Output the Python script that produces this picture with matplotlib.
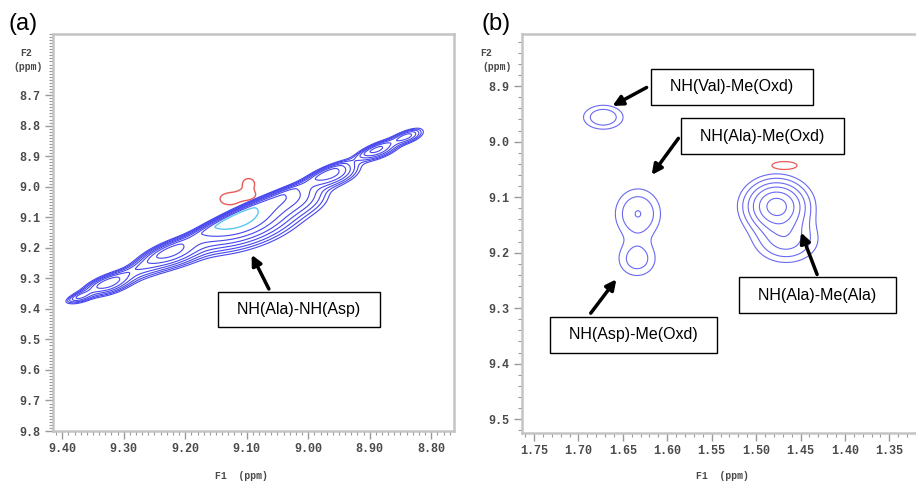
import numpy as np
import matplotlib
matplotlib.use('Agg')
import matplotlib.pyplot as plt
from matplotlib.ticker import MultipleLocator, FormatStrFormatter

# ---- panel (a): diagonal NH-NH peaks (u = along diagonal, d = y - x offset)
a_u = [9.366, 9.322, 9.270, 9.220, 9.112, 9.030, 8.962, 8.884, 8.838]
a_d = [-0.012, -0.012, -0.010, -0.016, -0.018, -0.012, -0.012, -0.012, -0.006]
a_amp = [0.28, 0.50, 0.20, 0.60, 1.00, 0.35, 0.50, 0.45, 0.32]
a_su = [0.012, 0.020, 0.025, 0.025, 0.045, 0.025, 0.022, 0.018, 0.014]
a_sd_up = [0.010, 0.016, 0.014, 0.018, 0.014, 0.012, 0.014, 0.012, 0.012]
a_sd_lo = [0.014, 0.024, 0.030, 0.035, 0.060, 0.050, 0.030, 0.020, 0.016]
a_levels = [0.07, 0.1, 0.14, 0.2, 0.28, 0.4, 0.56]
a_top_level = [0.8]
# negative (red) cross peak
a_neg_x = [9.128, 9.100, 9.097]
a_neg_y = [9.040, 9.026, 8.990]
a_neg_sx = [0.013, 0.012, 0.008]
a_neg_sy = [0.016, 0.014, 0.014]

# ---- panel (b): NH-Me cross peaks
b_x = [1.672, 1.633, 1.634, 1.477, 1.466]
b_y = [8.956, 9.130, 9.212, 9.116, 9.178]
b_amp = [0.28, 0.305, 0.24, 1.00, 0.35]
b_sx = [0.0155, 0.0170, 0.0150, 0.0205, 0.022]
b_sy = [0.0150, 0.0300, 0.0220, 0.0270, 0.025]
b_levels = [0.1, 0.18, 0.3, 0.45, 0.65, 0.88]
b_neg_x = [1.468]
b_neg_y = [9.043]

a_xticks = [9.40, 9.30, 9.20, 9.10, 9.00, 8.90, 8.80]
a_yticks = [8.7, 8.8, 8.9, 9.0, 9.1, 9.2, 9.3, 9.4, 9.5, 9.6, 9.7, 9.8]
b_xticks = [1.75, 1.70, 1.65, 1.60, 1.55, 1.50, 1.45, 1.40, 1.35]
b_yticks = [8.9, 9.0, 9.1, 9.2, 9.3, 9.4, 9.5]

plt.rcParams['font.family'] = ['Liberation Sans', 'DejaVu Sans']

fig = plt.figure(figsize=(9.16, 4.82), dpi=100)
axa = fig.add_axes([53 / 916, 51 / 482, 401 / 916, 397 / 482])
axb = fig.add_axes([522 / 916, 49 / 482, 394 / 916, 399 / 482])

blue = '#4646ee'
tickfont = dict(family='Liberation Mono', weight='bold', size=8.5)


def style_axes(ax):
    for s in ax.spines.values():
        s.set_color('#c4c4c4')
        s.set_linewidth(1.8)
    ax.tick_params(which='both', direction='out', color='#9a9a9a', labelcolor='#4a4a4a')
    ax.tick_params(which='major', length=6, width=1.0, pad=3)
    ax.tick_params(which='minor', length=3, width=0.8)
    ax.tick_params(top=False, right=False)
    for lab in ax.get_xticklabels() + ax.get_yticklabels():
        lab.set_fontfamily(tickfont['family'])
        lab.set_fontweight(tickfont['weight'])
        lab.set_fontsize(tickfont['size'])


# ---- panel (a)
gx = np.linspace(9.42, 8.76, 700)
gy = np.linspace(8.50, 9.80, 700)
X, Y = np.meshgrid(gx, gy)
U = (X + Y) / 2
D = Y - X
Z = np.zeros_like(X)
for u0, d0, A, su, sdu, sdl in zip(a_u, a_d, a_amp, a_su, a_sd_up, a_sd_lo):
    sd = np.where(D < d0, sdu, sdl)
    Z += A * np.exp(-(U - u0) ** 2 / (2 * su ** 2) - (D - d0) ** 2 / (2 * sd ** 2))
Zn = np.zeros_like(X)
for x0, y0, sx, sy in zip(a_neg_x, a_neg_y, a_neg_sx, a_neg_sy):
    Zn += np.exp(-(X - x0) ** 2 / (2 * sx ** 2) - (Y - y0) ** 2 / (2 * sy ** 2))

axa.contour(X, Y, Z, levels=a_levels, colors=blue, linewidths=0.8)
axa.contour(X, Y, Z, levels=a_top_level, colors='#5cc8f0', linewidths=1.0)
axa.contour(X, Y, Zn, levels=[0.5], colors='#e85a5a', linewidths=1.0)

axa.set_xlim(9.415, 8.763)
axa.set_ylim(9.80, 8.50)
axa.set_xticks(a_xticks)
axa.set_yticks(a_yticks)
axa.xaxis.set_major_formatter(FormatStrFormatter('%.2f'))
axa.yaxis.set_major_formatter(FormatStrFormatter('%.1f'))
axa.xaxis.set_minor_locator(MultipleLocator(0.01))
axa.yaxis.set_minor_locator(MultipleLocator(0.01))
style_axes(axa)

arrow = dict(arrowstyle='-|>,head_length=0.6,head_width=0.3', color='black', lw=2.5)
box = dict(boxstyle='square,pad=0.65', fc='white', ec='black', lw=1.0)

axa.annotate('', xy=(9.094, 9.215), xytext=(9.062, 9.343), arrowprops=arrow)
axa.text(9.015, 9.402, '  NH(Ala)-NH(Asp)  ', ha='center', va='center', fontsize=11.5, bbox=box)

# ---- panel (b)
hx = np.linspace(1.78, 1.30, 600)
hy = np.linspace(8.80, 9.55, 600)
X2, Y2 = np.meshgrid(hx, hy)
Z2 = np.zeros_like(X2)
for x0, y0, A, sx, sy in zip(b_x, b_y, b_amp, b_sx, b_sy):
    Z2 += A * np.exp(-(X2 - x0) ** 2 / (2 * sx ** 2) - (Y2 - y0) ** 2 / (2 * sy ** 2))
Z2n = np.zeros_like(X2)
for x0, y0 in zip(b_neg_x, b_neg_y):
    Z2n += np.exp(-(X2 - x0) ** 2 / (2 * 0.012 ** 2) - (Y2 - y0) ** 2 / (2 * 0.006 ** 2))

axb.contour(X2, Y2, Z2, levels=b_levels, colors='#6a6af2', linewidths=0.8)
axb.contour(X2, Y2, Z2n, levels=[0.5], colors='#e85a5a', linewidths=0.9)

axb.set_xlim(1.7635, 1.32)
axb.set_ylim(9.525, 8.806)
axb.set_xticks(b_xticks)
axb.set_yticks(b_yticks)
axb.xaxis.set_major_formatter(FormatStrFormatter('%.2f'))
axb.yaxis.set_major_formatter(FormatStrFormatter('%.1f'))
axb.xaxis.set_minor_locator(MultipleLocator(0.01))
axb.yaxis.set_minor_locator(MultipleLocator(0.02))
style_axes(axb)
axb.spines['right'].set_visible(False)

b_notes = [
    ('NH(Val)-Me(Oxd)', (1.5276, 8.901), (1.6205, 8.900), (1.6644, 8.938)),
    ('NH(Ala)-Me(Oxd)', (1.4932, 8.990), (1.5856, 8.990), (1.6194, 9.064)),
    ('NH(Ala)-Me(Ala)', (1.4313, 9.2766), (1.4302, 9.244), (1.4505, 9.159)),
    ('NH(Asp)-Me(Oxd)', (1.638, 9.348), (1.688, 9.313), (1.6554, 9.244)),
]
for label, centre, tail, tip in b_notes:
    axb.annotate('', xy=tip, xytext=tail, arrowprops=arrow)
    axb.text(centre[0], centre[1], '  ' + label + '  ', ha='center', va='center',
             fontsize=11.5, bbox=box)

# axis captions in the NMR-software style
mono = dict(family='Liberation Mono', weight='bold', size=7, color='#4a4a4a')
fig.text(20 / 916, 1 - 53 / 482, 'F2', va='center', **mono)
fig.text(13 / 916, 1 - 67 / 482, '(ppm)', va='center', **mono)
fig.text(480 / 916, 1 - 53 / 482, 'F2', va='center', **mono)
fig.text(482 / 916, 1 - 67 / 482, '(ppm)', va='center', **mono)
fig.text(241 / 916, 1 - 476 / 482, 'F1  (ppm)', ha='center', va='center', **mono)
fig.text(722 / 916, 1 - 476 / 482, 'F1  (ppm)', ha='center', va='center', **mono)

fig.text(8 / 916, 1 - 24 / 482, '(a)', fontsize=17, va='center')
fig.text(482 / 916, 1 - 24 / 482, '(b)', fontsize=17, va='center')

fig.savefig('out.png', dpi=100)
